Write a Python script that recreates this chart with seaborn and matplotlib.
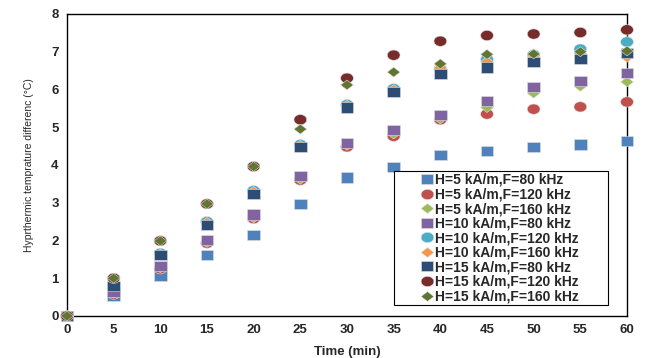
import numpy as np
import pandas as pd
import matplotlib
matplotlib.use("Agg")
import matplotlib.pyplot as plt
from matplotlib.patches import Rectangle
import seaborn as sns

time_min = [0, 5, 10, 15, 20, 25, 30, 35, 40, 45, 50, 55, 60]
series_labels = [
    "H=5 kA/m,F=80 kHz", "H=5 kA/m,F=120 kHz", "H=5 kA/m,F=160 kHz",
    "H=10 kA/m,F=80 kHz", "H=10 kA/m,F=120 kHz", "H=10 kA/m,F=160 kHz",
    "H=15 kA/m,F=80 kHz", "H=15 kA/m,F=120 kHz", "H=15 kA/m,F=160 kHz",
]
h5_f80 = [0, 0.52, 1.07, 1.62, 2.15, 2.97, 3.67, 3.95, 4.26, 4.37, 4.48, 4.54, 4.64]
h5_f120 = [0, 0.58, 1.25, 1.93, 2.58, 3.60, 4.48, 4.76, 5.20, 5.35, 5.48, 5.54, 5.67]
h5_f160 = [0, 0.60, 1.28, 1.95, 2.60, 3.62, 4.52, 4.82, 5.22, 5.52, 5.90, 6.08, 6.20]
h10_f80 = [0, 0.64, 1.33, 2.01, 2.69, 3.71, 4.58, 4.93, 5.32, 5.70, 6.06, 6.23, 6.43]
h10_f120 = [0, 0.82, 1.66, 2.50, 3.32, 4.54, 5.60, 6.02, 6.55, 6.80, 6.92, 7.07, 7.26]
h10_f160 = [0, 0.80, 1.64, 2.48, 3.30, 4.52, 5.58, 6.00, 6.58, 6.74, 6.85, 6.95, 6.85]
h15_f80 = [0, 0.79, 1.62, 2.41, 3.23, 4.47, 5.52, 5.93, 6.41, 6.58, 6.73, 6.80, 6.96]
h15_f120 = [0, 1.00, 1.99, 2.97, 3.96, 5.20, 6.30, 6.91, 7.28, 7.43, 7.47, 7.51, 7.58]
h15_f160 = [0, 1.00, 1.99, 2.97, 3.96, 4.95, 6.12, 6.46, 6.68, 6.93, 6.94, 7.00, 7.02]
all_series = [h5_f80, h5_f120, h5_f160, h10_f80, h10_f120, h10_f160,
              h15_f80, h15_f120, h15_f160]

colors = ["#4F81BD", "#C0504D", "#9BBB59", "#8064A2", "#4BACC6", "#F79646",
          "#2C4D75", "#772C2A", "#5F7530"]

# marker shapes (slightly wide, like the reference)
sq = [(-1.25, -1), (1.25, -1), (1.25, 1), (-1.25, 1), (-1.25, -1)]
th = np.linspace(0, 2 * np.pi, 40)
ell = list(zip(1.25 * np.cos(th), np.sin(th)))
dia = [(-1.3, 0), (0, 1), (1.3, 0), (0, -1), (-1.3, 0)]
shapes = [sq, ell, dia] * 3

rows = []
for lab, vals in zip(series_labels, all_series):
    for t, v in zip(time_min, vals):
        rows.append({"Time": t, "Temp": v, "Series": lab})
df = pd.DataFrame(rows)

sns.set_theme(style="white")
plt.rcParams["font.family"] = ["Liberation Sans", "DejaVu Sans"]

fig = plt.figure(figsize=(6.48, 3.58), dpi=100)
ax = fig.add_axes([67 / 648, 1 - 316 / 358, 560 / 648, 302 / 358])

palette = dict(zip(series_labels, colors))
markers = dict(zip(series_labels, shapes))
sns.scatterplot(data=df, x="Time", y="Temp", hue="Series", style="Series",
                palette=palette, markers=markers, s=85, linewidth=0.4,
                edgecolor="#e0e0e0", ax=ax, clip_on=False, zorder=3)

ax.set_xlim(0, 60)
ax.set_ylim(0, 8)
ax.set_xticks(range(0, 61, 5))
ax.set_yticks(range(0, 9, 1))
for sp in ax.spines.values():
    sp.set_visible(True)
    sp.set_color("black")
    sp.set_linewidth(1.0)
ax.tick_params(direction="in", length=4, width=1, color="black",
               labelsize=9.5, pad=6)
for lbl in ax.get_xticklabels() + ax.get_yticklabels():
    lbl.set_fontweight("bold")
ax.grid(False)

ax.set_xlabel("Time (min)", fontsize=9.5, fontweight="bold", labelpad=7)
ax.set_ylabel("Hyprthermic temprature differenc (°C)", fontsize=7.5,
              family=["Liberation Sans Narrow", "Liberation Sans", "DejaVu Sans"],
              labelpad=12)

# legend frame
ax.add_patch(Rectangle(((394 - 67) / 560, (316 - 305) / 302),
                       (608 - 394) / 560, (305 - 171) / 302,
                       transform=ax.transAxes, fill=True, facecolor="white",
                       edgecolor="black", linewidth=0.8, zorder=4,
                       clip_on=False))

handles, labels = ax.get_legend_handles_labels()
for h in handles:
    try:
        h.set_sizes([55])
    except AttributeError:
        pass
leg = ax.legend(handles, labels, loc="upper left",
                bbox_to_anchor=((420 - 67) / 560, (316 - 173) / 302),
                borderaxespad=0, frameon=False, handlelength=1.0,
                handletextpad=0.05, labelspacing=0.04, borderpad=0.0,
                prop={"size": 10, "weight": "bold"})
leg.set_zorder(5)

fig.savefig("out.png", dpi=100)
